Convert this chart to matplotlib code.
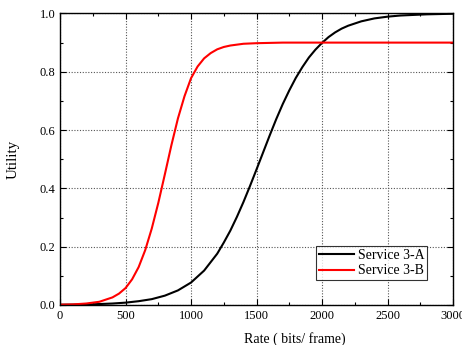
import matplotlib
matplotlib.use("Agg")
import matplotlib.pyplot as plt
from matplotlib.ticker import MultipleLocator

plt.rcParams['font.family'] = ['Liberation Serif', 'DejaVu Serif']

# Utility curves (values read at regular rates)
rate_a = [0, 100, 200, 300, 400, 500, 600, 700, 800, 900, 1000, 1100, 1200,
          1250, 1300, 1350, 1400, 1450, 1500, 1550, 1600, 1650, 1700, 1750,
          1800, 1850, 1900, 1950, 2000, 2050, 2100, 2150, 2200, 2300, 2400,
          2500, 2600, 2800, 3000]
util_a = [0.001, 0.0013, 0.002, 0.0032, 0.005, 0.008, 0.013, 0.020, 0.032,
          0.050, 0.077, 0.118, 0.176, 0.214, 0.255, 0.302, 0.353, 0.408,
          0.465, 0.523, 0.581, 0.637, 0.689, 0.736, 0.779, 0.816, 0.849,
          0.876, 0.899, 0.919, 0.935, 0.948, 0.958, 0.973, 0.983, 0.989,
          0.993, 0.997, 0.999]

rate_b = [0, 100, 200, 300, 400, 450, 500, 550, 600, 650, 700, 750, 800, 850,
          900, 950, 1000, 1050, 1100, 1150, 1200, 1250, 1300, 1400, 1500,
          1700, 2000, 2500, 3000]
util_b = [0.001, 0.002, 0.005, 0.011, 0.026, 0.039, 0.058, 0.088, 0.130,
          0.188, 0.262, 0.350, 0.448, 0.548, 0.640, 0.716, 0.778, 0.818,
          0.846, 0.864, 0.877, 0.885, 0.890, 0.896, 0.898, 0.9, 0.9, 0.9,
          0.9]

fig = plt.figure(figsize=(4.62, 3.45), dpi=100)
ax = fig.add_axes([0.130, 0.116, 0.8505, 0.845])

ax.plot(rate_a, util_a, color='black', lw=1.5, label='Service 3-A')
ax.plot(rate_b, util_b, color='red', lw=1.5, label='Service 3-B')

ax.set_xlim(0, 3000)
ax.set_ylim(0, 1.0)
ax.xaxis.set_major_locator(MultipleLocator(500))
ax.xaxis.set_minor_locator(MultipleLocator(250))
ax.yaxis.set_major_locator(MultipleLocator(0.2))
ax.yaxis.set_minor_locator(MultipleLocator(0.1))
ax.yaxis.set_major_formatter(plt.FuncFormatter(lambda v, p: f'{v:.1f}'))

ax.tick_params(which='both', direction='in', top=True, right=True,
               labelsize=9, width=0.8)
ax.tick_params(which='major', length=4)
ax.tick_params(which='minor', length=2.5)

ax.grid(True, which='major', color='#555555', linestyle=(0, (1, 1.5)), lw=0.8)
for s in ax.spines.values():
    s.set_linewidth(1.0)

ax.set_xlabel('Rate ( bits/ frame)', fontsize=10, labelpad=7)
ax.xaxis.set_label_coords(0.598, -0.094)
ax.set_ylabel('Utility', fontsize=10.8, labelpad=14)

leg = ax.legend(loc='lower right', bbox_to_anchor=(0.935, 0.085),
                fontsize=10, frameon=True, fancybox=False, edgecolor='black',
                handlelength=2.5, handletextpad=0.3, borderpad=0.2,
                labelspacing=0.2, borderaxespad=0)
leg.get_frame().set_linewidth(0.8)

fig.savefig('out.png', dpi=100)
